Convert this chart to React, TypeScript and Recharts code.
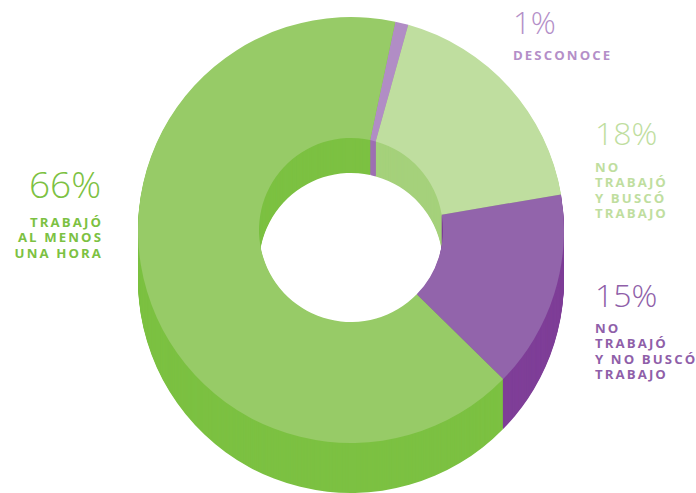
import { Cell, Pie, PieChart } from "recharts";

// shares, clockwise from the thin "desconoce" slice near 12 o'clock
const categories = [
  "Desconoce",
  "No trabajó y buscó trabajo",
  "No trabajó y no buscó trabajo",
  "Trabajó al menos una hora",
];
const shares = [1, 18, 15, 66];
const percentLabels = ["1%", "18%", "15%", "66%"];
const labelLines = [
  ["DESCONOCE"],
  ["NO", "TRABAJÓ", "Y BUSCÓ", "TRABAJO"],
  ["NO", "TRABAJÓ", "Y NO BUSCÓ", "TRABAJO"],
  ["TRABAJÓ", "AL MENOS", "UNA HORA"],
];

const faceColors = ["#b18dc5", "#bfde9f", "#9264ab", "#97cb67"];
const sideColors = ["#9d6fb3", "#a5d17b", "#7f3f98", "#7cc142"];
const textColors = ["#b48fc8", "#bfde9f", "#8f5fa9", "#7cc142"];

const W = 696;
const H = 493;
const CX = 351;
const CY = 230;
const R_OUT = 213;
const R_IN = 92;
const OUTER_DEPTH = 50;
const INNER_DEPTH = 35;
const START = 78;

const data = categories.map((name, i) => ({ name, value: shares[i] }));

// bottom-most layers first so the upper ones cover them
const outerOffsets = Array.from({ length: OUTER_DEPTH }, (_, i) => OUTER_DEPTH - i);
const innerOffsets = Array.from({ length: INNER_DEPTH }, (_, i) => INNER_DEPTH - i);

const labelPos = [
  { x: 513, y: 34, anchor: "start", first: 60, size: 31 },
  { x: 595, y: 145, anchor: "start", first: 172, size: 32 },
  { x: 595, y: 307, anchor: "start", first: 333, size: 32 },
  { x: 101, y: 198, anchor: "end", first: 227, size: 37 },
];

function Layer({ dy, inner, outer, colors, id }: any) {
  return (
    <Pie
      key={id}
      data={data}
      dataKey="value"
      cx={CX}
      cy={CY + dy}
      innerRadius={inner}
      outerRadius={outer}
      startAngle={START}
      endAngle={START - 360}
      stroke="none"
      isAnimationActive={false}
    >
      {data.map((d, i) => (
        <Cell key={d.name} fill={colors[i]} />
      ))}
    </Pie>
  );
}

export default function App() {
  return (
    <div style={{ position: "absolute", left: 0, top: 0, width: W, height: H, background: "#fff" }}>
      <PieChart width={W} height={H} margin={{ top: 0, right: 0, bottom: 0, left: 0 }}>
        {outerOffsets.map((dy) => Layer({ dy, inner: 150, outer: R_OUT, colors: sideColors, id: `o${dy}` }))}
        {innerOffsets.map((dy) => Layer({ dy, inner: R_IN, outer: 140, colors: sideColors, id: `i${dy}` }))}
        {Layer({ dy: 0, inner: R_IN, outer: R_OUT, colors: faceColors, id: "top" })}
      </PieChart>
      <svg
        width={W}
        height={H}
        style={{ position: "absolute", left: 0, top: 0, pointerEvents: "none" }}
      >
        {labelPos.map((p, i) => (
          <g key={categories[i]} fill={textColors[i]} textAnchor={p.anchor}>
            <text
              x={p.x}
              y={p.y}
              fontFamily="'Open Sans', sans-serif"
              fontWeight={300}
              fontSize={p.size}
            >
              {percentLabels[i]}
            </text>
            {labelLines[i].map((line, j) => (
              <text
                key={line + j}
                x={p.anchor === "end" ? p.x + 2 : p.x}
                y={p.first + j * 15.4}
                fontFamily="'Open Sans', sans-serif"
                fontWeight={700}
                fontSize={13.2}
                style={{ letterSpacing: "2.1px" }}
              >
                {line}
              </text>
            ))}
          </g>
        ))}
      </svg>
    </div>
  );
}
